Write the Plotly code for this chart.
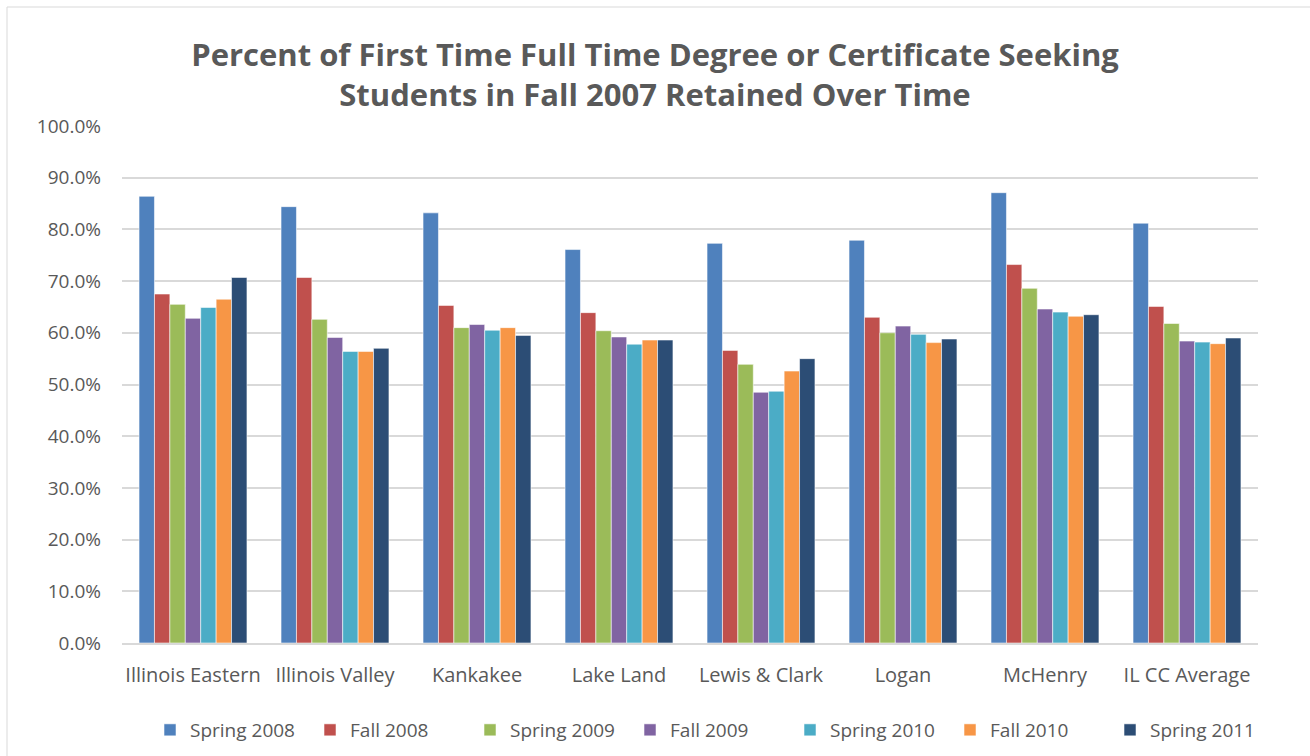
import plotly.graph_objects as go

categories = ["Illinois Eastern", "Illinois Valley", "Kankakee", "Lake Land",
              "Lewis & Clark", "Logan", "McHenry", "IL CC Average"]

series_names = ["Spring 2008", "Fall 2008", "Spring 2009", "Fall 2009",
                "Spring 2010", "Fall 2010", "Spring 2011"]

spring_2008 = [86.4, 84.4, 83.2, 76.1, 77.3, 77.9, 87.1, 81.2]
fall_2008 = [67.5, 70.7, 65.3, 63.9, 56.6, 63.0, 73.2, 65.1]
spring_2009 = [65.5, 62.6, 61.0, 60.4, 53.9, 60.0, 68.6, 61.8]
fall_2009 = [62.8, 59.1, 61.6, 59.2, 48.5, 61.3, 64.6, 58.4]
spring_2010 = [64.9, 56.4, 60.5, 57.8, 48.7, 59.7, 64.0, 58.2]
fall_2010 = [66.5, 56.4, 61.0, 58.6, 52.6, 58.1, 63.2, 57.9]
spring_2011 = [70.7, 57.0, 59.5, 58.6, 55.0, 58.8, 63.5, 59.0]

series_values = [spring_2008, fall_2008, spring_2009, fall_2009,
                 spring_2010, fall_2010, spring_2011]

colors = ["#4F81BD", "#C0504D", "#9BBB59", "#8064A2", "#4BACC6", "#F79646", "#2C4D75"]

font_family = "'Open Sans', Lato, sans-serif"
text_color = "#595959"

W, H = 1310, 756
L, R, T, B = 122, 52, 126, 113
pw, ph = W - L - R, H - T - B

fig = go.Figure()
for name, vals, col in zip(series_names, series_values, colors):
    fig.add_trace(go.Bar(
        name=name,
        x=categories,
        y=[v / 100 for v in vals],
        marker=dict(color=col, line=dict(color="rgba(255,255,255,0.55)", width=1)),
    ))

fig.update_layout(
    width=W, height=H,
    barmode="group",
    bargap=0.24,
    bargroupgap=0,
    paper_bgcolor="white",
    plot_bgcolor="white",
    margin=dict(l=L, r=R, t=T, b=B, autoexpand=False),
    title=dict(
        text="Percent of First Time Full Time Degree or Certificate Seeking<br>Students in Fall 2007 Retained Over Time",
        x=0.5, xanchor="center", xref="container",
        y=1 - 65.5 / H, yanchor="middle", yref="container",
        font=dict(family=font_family, size=31, color=text_color, weight="bold"),
    ),
    font=dict(family=font_family, color=text_color),
    legend=dict(
        orientation="h", x=0.542, xanchor="center", xref="container",
        y=1 - 730 / H, yanchor="middle", yref="container",
        font=dict(size=19, color=text_color),
        entrywidth=115, entrywidthmode="pixels",
        itemwidth=30,
    ),
    showlegend=True,
)

fig.update_yaxes(
    range=[0, 1.0], dtick=0.1, tickformat=".1%",
    showgrid=True, gridcolor="#D9D9D9", gridwidth=2,
    zeroline=False, showline=False,
    tickfont=dict(size=19, color=text_color),
    ticks="", ticklabelstandoff=20, automargin=False,
)
fig.update_xaxes(
    showline=True, linecolor="#D9D9D9", linewidth=2,
    tickfont=dict(size=20, color=text_color),
    ticks="", ticklabelstandoff=13, automargin=False,
)

fig.add_shape(type="rect", xref="paper", yref="paper",
              x0=(7 - L) / pw, x1=(W + 6 - L) / pw,
              y0=-(H + 6 - (T + ph)) / ph, y1=1 + (T - 7) / ph,
              line=dict(color="#D9D9D9", width=1), fillcolor="rgba(0,0,0,0)", layer="below")

fig.write_html("out.html", config={"displayModeBar": False},
               post_script="document.body.style.margin='0';document.body.style.overflow='hidden';")
